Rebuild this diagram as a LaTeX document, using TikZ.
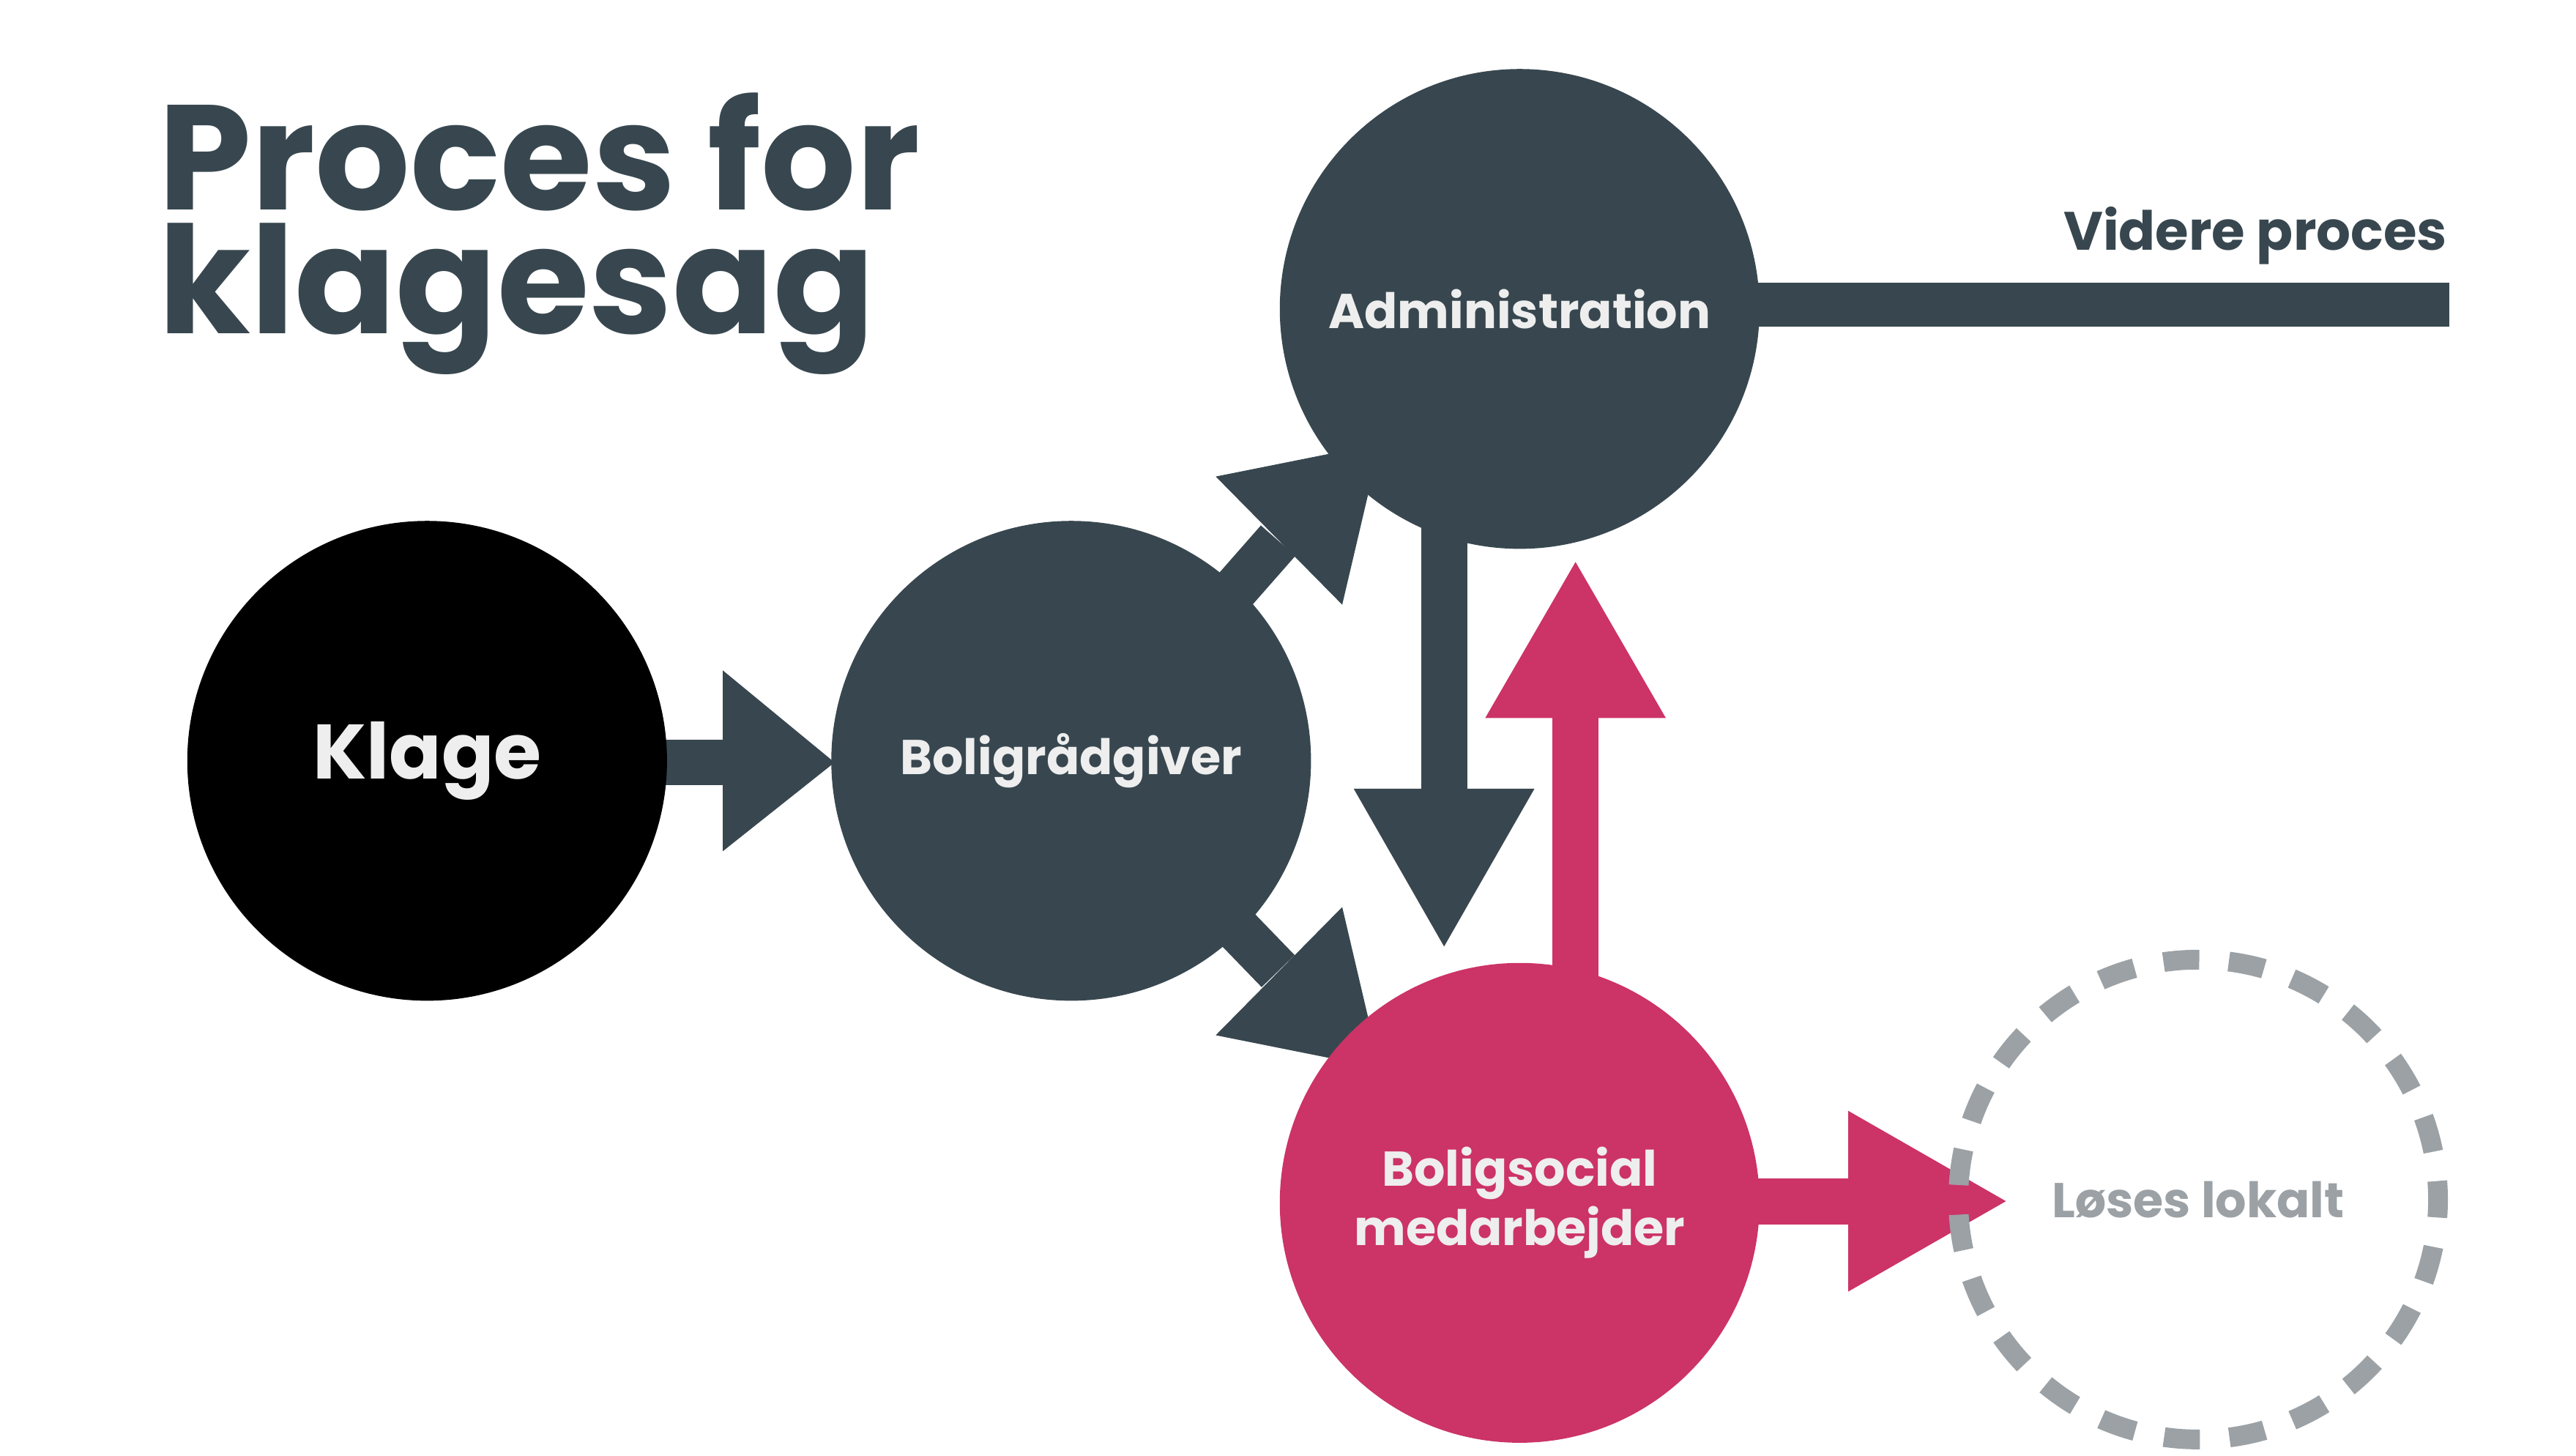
\documentclass[tikz,border=0pt]{standalone}
\usepackage{fontspec}
\setmainfont{Poppins}
\usetikzlibrary{calc}
\definecolor{slate}{HTML}{38474F}
\definecolor{rose}{HTML}{CC3366}
\definecolor{ash}{HTML}{9BA1A5}
\definecolor{chalk}{HTML}{EEEEEE}
\tikzset{
  step circle/.style={circle,minimum size=292\pgflinewidth,inner sep=0pt,font=\bfseries\fontsize{19}{23}\selectfont,text=chalk,align=center},
}
\begin{document}
\begin{tikzpicture}[x=0.02244cm,y=-0.02244cm,line width=0.02244cm]
\useasboundingbox (0,0) rectangle (1568,886);
\node[anchor=north west,text=slate,font=\bfseries\fontsize{58}{48}\selectfont,align=left,inner sep=0pt] (title) at (96,56) {Proces for\\klagesag};
% arrows
\fill[slate] (400,450) rectangle (440,478);
\fill[slate] (440,408) -- (508,464) -- (440,518) -- cycle;
\fill[slate] (865,310) rectangle (893,480);
\fill[slate] (824,480) -- (934,480) -- (879,576) -- cycle;
\fill[rose] (945,600) rectangle (973,437);
\fill[rose] (904,437) -- (1014,437) -- (959,342) -- cycle;
\fill[rose] (1060,717) rectangle (1125,745);
\fill[rose] (1125,676) -- (1221,731) -- (1125,786) -- cycle;
\fill[slate] (1060,172) rectangle (1491,199);
\draw[slate,line width=28*0.02244cm] (720,395) -- (778,329);
\fill[slate] (740,290) -- (817,368) -- (840,270) -- cycle;
\draw[slate,line width=28*0.02244cm] (720,531) -- (778,591);
\fill[slate] (740,630) -- (817,552) -- (840,650) -- cycle;
% circles
\node[step circle,fill=black,font=\bfseries\fontsize{30}{34}\selectfont] (klage) at (260,463) {Klage};
\node[step circle,fill=slate] (raadgiver) at (652,463) {Boligrådgiver};
\node[step circle,fill=slate] (admin) at (925,188) {Administration};
\node[step circle,fill=rose] (social) at (925,732) {Boligsocial\\medarbejder};
\draw[ash,line width=12*0.02244cm,dash pattern=on 0.49cm off 0.405cm,dash phase=0.245cm] (1338,730) circle[radius=146];
\node[step circle,text=ash] (lokalt) at (1338,730) {Løses lokalt};
\node[anchor=base east,text=slate,font=\bfseries\fontsize{21}{24}\selectfont,inner sep=0pt] (videre) at (1490,152) {Videre proces};
\end{tikzpicture}
\end{document}
